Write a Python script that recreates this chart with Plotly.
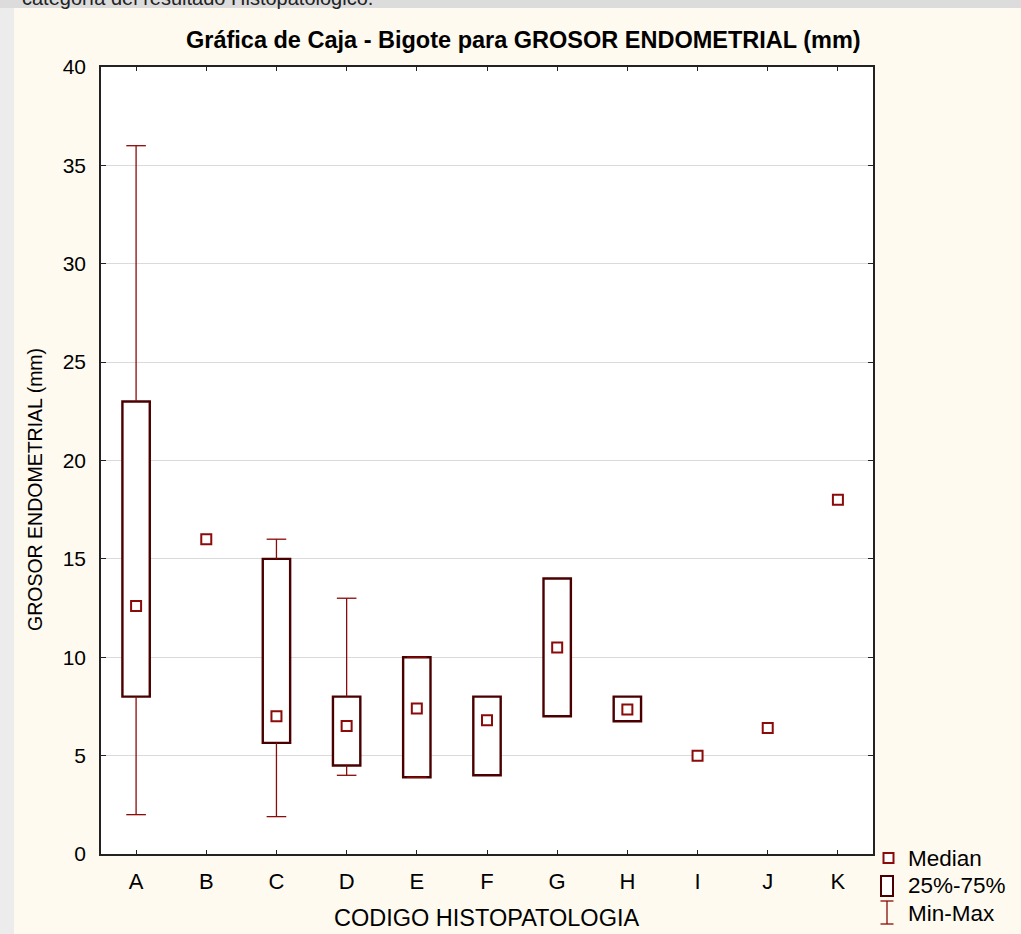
import plotly.graph_objects as go

categories = ["A", "B", "C", "D", "E", "F", "G", "H", "I", "J", "K"]
medians = [12.6, 16.0, 7.0, 6.5, 7.4, 6.8, 10.5, 7.35, 5.0, 6.4, 18.0]
q1 = [8.0, None, 5.65, 4.5, 3.9, 4.0, 7.0, 6.75, None, None, None]
q3 = [23.0, None, 15.0, 8.0, 10.0, 8.0, 14.0, 8.0, None, None, None]
mins = [2.0, None, 1.9, 4.0, 3.9, None, None, None, None, None, None]
maxs = [36.0, None, 16.0, 13.0, 10.0, None, None, None, None, None, None]

y_ticks = [0, 5, 10, 15, 20, 25, 30, 35, 40]

BOX_C = "#4a0000"
RED_C = "#8b0a0a"
CREAM = "#fffaef"
FONT = "Liberation Sans, Arial, sans-serif"

W, H = 1021, 934
L, R, T, B = 101, 873, 67, 854


def px(x):
    return (x - L) / (R - L)


def py(y):
    return (B - y) / (B - T)


fig = go.Figure()

# Whisker lines (min->q1, q3->max)
wx, wy = [], []
for c, lo, a, b, hi in zip(categories, mins, q1, q3, maxs):
    if lo is not None and a is not None:
        wx += [c, c, None]
        wy += [lo, a, None]
    if hi is not None and b is not None:
        wx += [c, c, None]
        wy += [b, hi, None]
fig.add_trace(go.Scatter(x=wx, y=wy, mode="lines", line=dict(color=RED_C, width=1.3),
                         showlegend=False, hoverinfo="skip"))

# Whisker caps
cx = [c for c, v in zip(categories, mins) if v is not None] + \
     [c for c, v in zip(categories, maxs) if v is not None]
cy = [v for v in mins if v is not None] + [v for v in maxs if v is not None]
fig.add_trace(go.Scatter(x=cx, y=cy, mode="markers",
                         marker=dict(symbol="line-ew", size=14, line=dict(color=RED_C, width=1.3)),
                         showlegend=False, hoverinfo="skip"))

# Boxes 25%-75%
bx = [c for c, a in zip(categories, q1) if a is not None]
bbase = [a for a in q1 if a is not None]
bh = [b - a for a, b in zip(q1, q3) if a is not None]
fig.add_trace(go.Bar(x=bx, y=bh, base=bbase, width=0.39,
                     marker=dict(color="white", line=dict(color=BOX_C, width=2.4)),
                     showlegend=False, hoverinfo="skip"))

# Medians
fig.add_trace(go.Scatter(x=categories, y=medians, mode="markers",
                         marker=dict(symbol="square", size=10, color="white",
                                     line=dict(color=RED_C, width=2)),
                         showlegend=False, hoverinfo="skip"))

shapes = [
    dict(type="rect", xref="paper", yref="paper", x0=px(14), x1=px(W + 5), y0=py(H + 5), y1=py(8),
         fillcolor=CREAM, line=dict(width=0), layer="below"),
    dict(type="rect", xref="paper", yref="paper", x0=px(-5), x1=px(W + 5), y0=py(8), y1=py(-5),
         fillcolor="#dcdcdc", line=dict(width=0), layer="below"),
    dict(type="rect", xref="paper", yref="paper", x0=0, x1=1, y0=0, y1=1,
         fillcolor="white", line=dict(width=0), layer="below"),
    # legend symbols
    dict(type="rect", xref="paper", yref="paper", x0=px(883.5), x1=px(893.5), y0=py(863), y1=py(853),
         fillcolor="white", line=dict(color=RED_C, width=2)),
    dict(type="rect", xref="paper", yref="paper", x0=px(881), x1=px(893), y0=py(896), y1=py(876),
         fillcolor="white", line=dict(color=BOX_C, width=2)),
    dict(type="line", xref="paper", yref="paper", x0=px(887), x1=px(887), y0=py(924), y1=py(901),
         line=dict(color=RED_C, width=1.3)),
    dict(type="line", xref="paper", yref="paper", x0=px(880.5), x1=px(893.5), y0=py(901), y1=py(901),
         line=dict(color=RED_C, width=1.3)),
    dict(type="line", xref="paper", yref="paper", x0=px(880.5), x1=px(893.5), y0=py(924), y1=py(924),
         line=dict(color=RED_C, width=1.3)),
]

annotations = [
    dict(text="categoría del resultado Histopatologico.", xref="paper", yref="paper",
         x=px(20), y=py(11), xanchor="left", yanchor="bottom", showarrow=False,
         font=dict(family=FONT, size=20, color="#222")),
    dict(text="<b>Gráfica de Caja - Bigote para GROSOR ENDOMETRIAL (mm)</b>", xref="paper", yref="paper",
         x=px(523.5), y=py(40), xanchor="center", yanchor="middle", showarrow=False,
         font=dict(family=FONT, size=23.5, color="black")),
    dict(text="GROSOR ENDOMETRIAL (mm)", xref="paper", yref="paper", textangle=-90,
         x=px(35), y=py(490), xanchor="center", yanchor="middle", showarrow=False,
         font=dict(family=FONT, size=19.5, color="black")),
    dict(text="CODIGO HISTOPATOLOGIA", xref="paper", yref="paper",
         x=px(486.5), y=py(918), xanchor="center", yanchor="middle", showarrow=False,
         font=dict(family=FONT, size=23.5, color="black")),
    dict(text="Median", xref="paper", yref="paper", x=px(906), y=py(858),
         xanchor="left", yanchor="middle", showarrow=False,
         font=dict(family=FONT, size=22.5, color="black")),
    dict(text="25%-75%", xref="paper", yref="paper", x=px(906), y=py(886),
         xanchor="left", yanchor="middle", showarrow=False,
         font=dict(family=FONT, size=22.5, color="black")),
    dict(text="Min-Max", xref="paper", yref="paper", x=px(906), y=py(913),
         xanchor="left", yanchor="middle", showarrow=False,
         font=dict(family=FONT, size=22.5, color="black")),
]

fig.update_layout(
    width=W, height=H,
    margin=dict(l=L, r=W - R, t=T, b=H - B, pad=0),
    paper_bgcolor="#ececec",
    plot_bgcolor="rgba(0,0,0,0)",
    showlegend=False,
    shapes=shapes,
    annotations=annotations,
    barmode="overlay",
    xaxis=dict(
        type="category", categoryorder="array", categoryarray=categories,
        range=[-0.5, len(categories) - 0.5],
        showline=True, linecolor="#222", linewidth=1.5, mirror="ticks",
        ticks="inside", ticklen=4, tickcolor="#222", tickwidth=1,
        showgrid=False, zeroline=False,
        tickfont=dict(family=FONT, size=22, color="black"),
        ticklabelstandoff=7,
    ),
    yaxis=dict(
        range=[0, 40], tickvals=y_ticks,
        showline=True, linecolor="#222", linewidth=1.5, mirror="ticks",
        ticks="inside", ticklen=5, tickcolor="#222", tickwidth=1,
        showgrid=True, gridcolor="#dadada", gridwidth=1, zeroline=False,
        tickfont=dict(family=FONT, size=21, color="black"),
        ticklabelstandoff=9,
    ),
)

fig.write_html("out.html", config={"displayModeBar": False},
               post_script="document.body.style.margin='0px';")
